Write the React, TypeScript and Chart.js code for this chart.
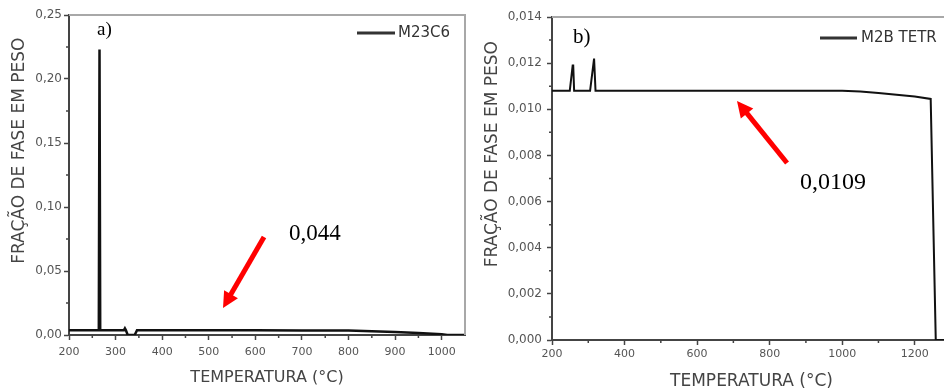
import React, { useEffect, useRef } from 'react';
import { Chart, registerables } from 'chart.js';
Chart.register(...registerables);

// ---------- Panel a) M23C6 ----------
const tempsA = [200, 264, 265.5, 267, 313, 318, 320, 322, 326, 341, 346, 400, 500, 600, 700, 800, 850, 900, 950, 1000, 1012, 1050];
const fracA = [0.0038, 0.0038, 0.223, 0.0038, 0.0038, 0.0038, 0.0052, 0.0038, 0, 0, 0.0038, 0.0038, 0.0037, 0.0037, 0.0036, 0.0035, 0.003, 0.0023, 0.0016, 0.0006, 0, 0];
const xTicksA = [200, 300, 400, 500, 600, 700, 800, 900, 1000];
const xMinorA = [250, 350, 450, 550, 650, 750, 850, 950];
const yTicksA = [0, 0.05, 0.1, 0.15, 0.2, 0.25];
const yMinorA = [0.025, 0.075, 0.125, 0.175, 0.225];
const legendA = 'M23C6';
const panelLabelA = 'a)';
const noteA = '0,044';

// ---------- Panel b) M2B TETR ----------
const tempsB = [200, 249, 257, 258.5, 261, 305, 316, 317.5, 320, 400, 600, 800, 1000, 1050, 1100, 1150, 1200, 1244, 1258, 1300];
const fracB = [0.0108, 0.0108, 0.0119, 0.0119, 0.0108, 0.0108, 0.0122, 0.0122, 0.0108, 0.0108, 0.0108, 0.0108, 0.0108, 0.01077, 0.01071, 0.01063, 0.01055, 0.01045, 0, 0];
const xTicksB = [200, 400, 600, 800, 1000, 1200];
const xMinorB = [300, 500, 700, 900, 1100];
const yTicksB = [0, 0.002, 0.004, 0.006, 0.008, 0.01, 0.012, 0.014];
const yMinorB = [0.001, 0.003, 0.005, 0.007, 0.009, 0.011, 0.013];
const legendB = 'M2B TETR';
const panelLabelB = 'b)';
const noteB = '0,0109';

const yTitle = 'FRAÇÃO DE FASE EM PESO';
const xTitle = 'TEMPERATURA (°C)';

const FONT = "'DejaVu Sans', sans-serif";
const SERIF = "'Liberation Serif', 'Times New Roman', serif";

function drawArrow(ctx: CanvasRenderingContext2D, x1: number, y1: number, x2: number, y2: number) {
  const ang = Math.atan2(y2 - y1, x2 - x1);
  const headLen = 16, headW = 8;
  const c = Math.cos(ang), s = Math.sin(ang);
  const bx = x2 - headLen * c, by = y2 - headLen * s;
  ctx.strokeStyle = '#ff0000';
  ctx.fillStyle = '#ff0000';
  ctx.lineWidth = 5;
  ctx.lineCap = 'butt';
  ctx.beginPath();
  ctx.moveTo(x1, y1);
  ctx.lineTo(bx + 2 * c, by + 2 * s);
  ctx.stroke();
  ctx.beginPath();
  ctx.moveTo(x2, y2);
  ctx.lineTo(bx + headW * s, by - headW * c);
  ctx.lineTo(bx - headW * s, by + headW * c);
  ctx.closePath();
  ctx.fill();
}

const decorPlugin = {
  id: 'decor',
  afterDraw(chart: any, _args: any, opts: any) {
    const { ctx, chartArea, scales } = chart;
    const x = scales.x, y = scales.y;
    ctx.save();
    // frame top/right
    ctx.strokeStyle = '#a8a8a8';
    ctx.lineWidth = 2;
    ctx.beginPath();
    ctx.moveTo(chartArea.left, chartArea.top);
    ctx.lineTo(chartArea.right, chartArea.top);
    ctx.lineTo(chartArea.right, chartArea.bottom);
    ctx.stroke();
    // minor ticks
    ctx.strokeStyle = '#444';
    ctx.lineWidth = 1.5;
    ctx.beginPath();
    for (const v of opts.xMinor) {
      const px = x.getPixelForValue(v);
      ctx.moveTo(px, chartArea.bottom);
      ctx.lineTo(px, chartArea.bottom + 3);
    }
    for (const v of opts.yMinor) {
      const py = y.getPixelForValue(v);
      ctx.moveTo(chartArea.left, py);
      ctx.lineTo(chartArea.left - 3, py);
    }
    ctx.stroke();
    // legend
    const lg = opts.legend;
    ctx.strokeStyle = '#333';
    ctx.lineWidth = 3;
    ctx.beginPath();
    ctx.moveTo(chartArea.right + lg.x1, chartArea.top + lg.dy);
    ctx.lineTo(chartArea.right + lg.x2, chartArea.top + lg.dy);
    ctx.stroke();
    ctx.fillStyle = '#333';
    ctx.font = `${lg.size}px ${FONT}`;
    ctx.textBaseline = 'middle';
    ctx.textAlign = 'left';
    ctx.fillText(lg.text, chartArea.right + lg.tx, chartArea.top + lg.dy);
    // texts
    ctx.textBaseline = 'alphabetic';
    ctx.fillStyle = '#000';
    for (const t of opts.texts) {
      ctx.font = `${t.size}px ${SERIF}`;
      ctx.fillText(t.text, x.getPixelForValue(t.x), y.getPixelForValue(t.y));
    }
    // arrows
    for (const a of opts.arrows) {
      drawArrow(ctx, x.getPixelForValue(a.x1), y.getPixelForValue(a.y1), x.getPixelForValue(a.x2), y.getPixelForValue(a.y2));
    }
    ctx.restore();
  },
};

// leading non-breaking spaces shift the rotated title upward along the axis, as in the reference
const shiftedYTitle = '\u00A0'.repeat(9) + yTitle;

function makeConfig(p: any) {
  return {
    type: 'line',
    data: {
      datasets: [
        {
          label: p.legend.text,
          data: p.temps.map((t: number, i: number) => ({ x: t, y: p.vals[i] })),
          borderColor: '#111',
          borderWidth: p.lineWidth,
          pointRadius: 0,
          tension: 0,
          fill: false,
        },
      ],
    },
    options: {
      animation: false,
      responsive: false,
      devicePixelRatio: 1,
      layout: { padding: { top: p.padTop, right: p.padRight, left: 0, bottom: 0 } },
      plugins: {
        legend: { display: false },
        tooltip: { enabled: false },
        decor: {
          xMinor: p.xMinor,
          yMinor: p.yMinor,
          legend: p.legend,
          texts: p.texts,
          arrows: p.arrows,
        },
      },
      scales: {
        x: {
          type: 'linear',
          position: 'bottom',
          min: p.xMin,
          max: p.xMax,
          border: { display: true, color: '#444', width: 2 },
          grid: { display: true, drawOnChartArea: false, drawTicks: true, tickLength: 5, tickColor: '#444', tickWidth: 1.5, color: '#444' },
          ticks: {
            autoSkip: false,
            maxRotation: 0,
            padding: p.xTickPad,
            color: '#555',
            font: { family: FONT, size: p.xTickSize },
            callback: (v: number) => String(v),
          },
          afterBuildTicks: (s: any) => {
            s.ticks = p.xTicks.map((v: number) => ({ value: v }));
          },
          afterFit: (s: any) => {
            s.height = p.xHeight;
          },
          title: {
            display: true,
            text: xTitle,
            color: '#444',
            font: { family: FONT, size: p.xTitleSize },
            padding: { top: 0, bottom: p.xTitlePad },
          },
        },
        y: {
          type: 'linear',
          position: 'left',
          min: p.yMin,
          max: p.yMax,
          border: { display: true, color: '#444', width: 2 },
          grid: { display: true, drawOnChartArea: false, drawTicks: true, tickLength: 5, tickColor: '#444', tickWidth: 1.5, color: '#444' },
          ticks: {
            autoSkip: false,
            padding: p.yTickPad,
            color: '#555',
            font: { family: FONT, size: p.yTickSize },
            callback: (v: number) => v.toFixed(p.decimals).replace('.', ','),
          },
          afterBuildTicks: (s: any) => {
            s.ticks = p.yTicks.map((v: number) => ({ value: v }));
          },
          afterFit: (s: any) => {
            s.width = p.yWidth;
          },
          title: {
            display: true,
            text: shiftedYTitle,
            color: '#444',
            font: { family: FONT, size: p.yTitleSize },
            padding: { top: p.yTitlePad, bottom: 0 },
          },
        },
      },
    },
    plugins: [decorPlugin],
  };
}

const configA = () =>
  makeConfig({
    temps: tempsA,
    vals: fracA,
    lineWidth: 2.5,
    xMin: 200,
    xMax: 1050,
    yMin: 0,
    yMax: 0.25,
    xTicks: xTicksA,
    xMinor: xMinorA,
    yTicks: yTicksA,
    yMinor: yMinorA,
    decimals: 2,
    padTop: 15,
    padRight: 15,
    xHeight: 57,
    yWidth: 69,
    xTickSize: 11,
    xTickPad: 6,
    yTickSize: 12,
    yTickPad: 2,
    xTitleSize: 16,
    xTitlePad: 5,
    yTitleSize: 17,
    yTitlePad: 9,
    legend: { text: legendA, x1: -108, x2: -70, tx: -67, dy: 18, size: 15 },
    texts: [
      { text: panelLabelA, x: 260, y: 0.2344, size: 19 },
      { text: noteA, x: 672, y: 0.0742, size: 23 },
    ],
    arrows: [{ x1: 618.6, y1: 0.0766, x2: 530.6, y2: 0.0211 }],
  });

const configB = () =>
  makeConfig({
    temps: tempsB,
    vals: fracB,
    lineWidth: 2,
    xMin: 200,
    xMax: 1300,
    yMin: 0,
    yMax: 0.014,
    xTicks: xTicksB,
    xMinor: xMinorB,
    yTicks: yTicksB,
    yMinor: yMinorB,
    decimals: 3,
    padTop: 17,
    padRight: 49,
    xHeight: 52,
    yWidth: 72,
    xTickSize: 11,
    xTickPad: 3,
    yTickSize: 12,
    yTickPad: 5,
    xTitleSize: 17,
    xTitlePad: 0,
    yTitleSize: 17,
    yTitlePad: 2,
    legend: { text: legendB, x1: -131, x2: -94, tx: -90, dy: 21, size: 15 },
    texts: [
      { text: panelLabelB, x: 258, y: 0.01287, size: 21 },
      { text: noteB, x: 884, y: 0.006545, size: 24 },
    ],
    arrows: [{ x1: 848, y1: 0.007672, x2: 710, y2: 0.010359 }],
  });

function ChartCanvas({ makeCfg, left, width, height }: { makeCfg: () => any; left: number; width: number; height: number }) {
  const ref = useRef<HTMLCanvasElement>(null);
  useEffect(() => {
    const chart = new Chart(ref.current as HTMLCanvasElement, makeCfg() as any);
    return () => chart.destroy();
  }, []);
  return (
    <canvas
      ref={ref}
      width={width}
      height={height}
      style={{ position: 'absolute', left, top: 0, width, height, display: 'block' }}
    />
  );
}

export default function App() {
  return (
    <div
      style={{
        position: 'fixed',
        left: 0,
        top: 0,
        width: 944,
        height: 392,
        overflow: 'hidden',
        background: '#fff',
      }}
    >
      <ChartCanvas makeCfg={configA} left={0} width={480} height={392} />
      <ChartCanvas makeCfg={configB} left={480} width={520} height={392} />
    </div>
  );
}
